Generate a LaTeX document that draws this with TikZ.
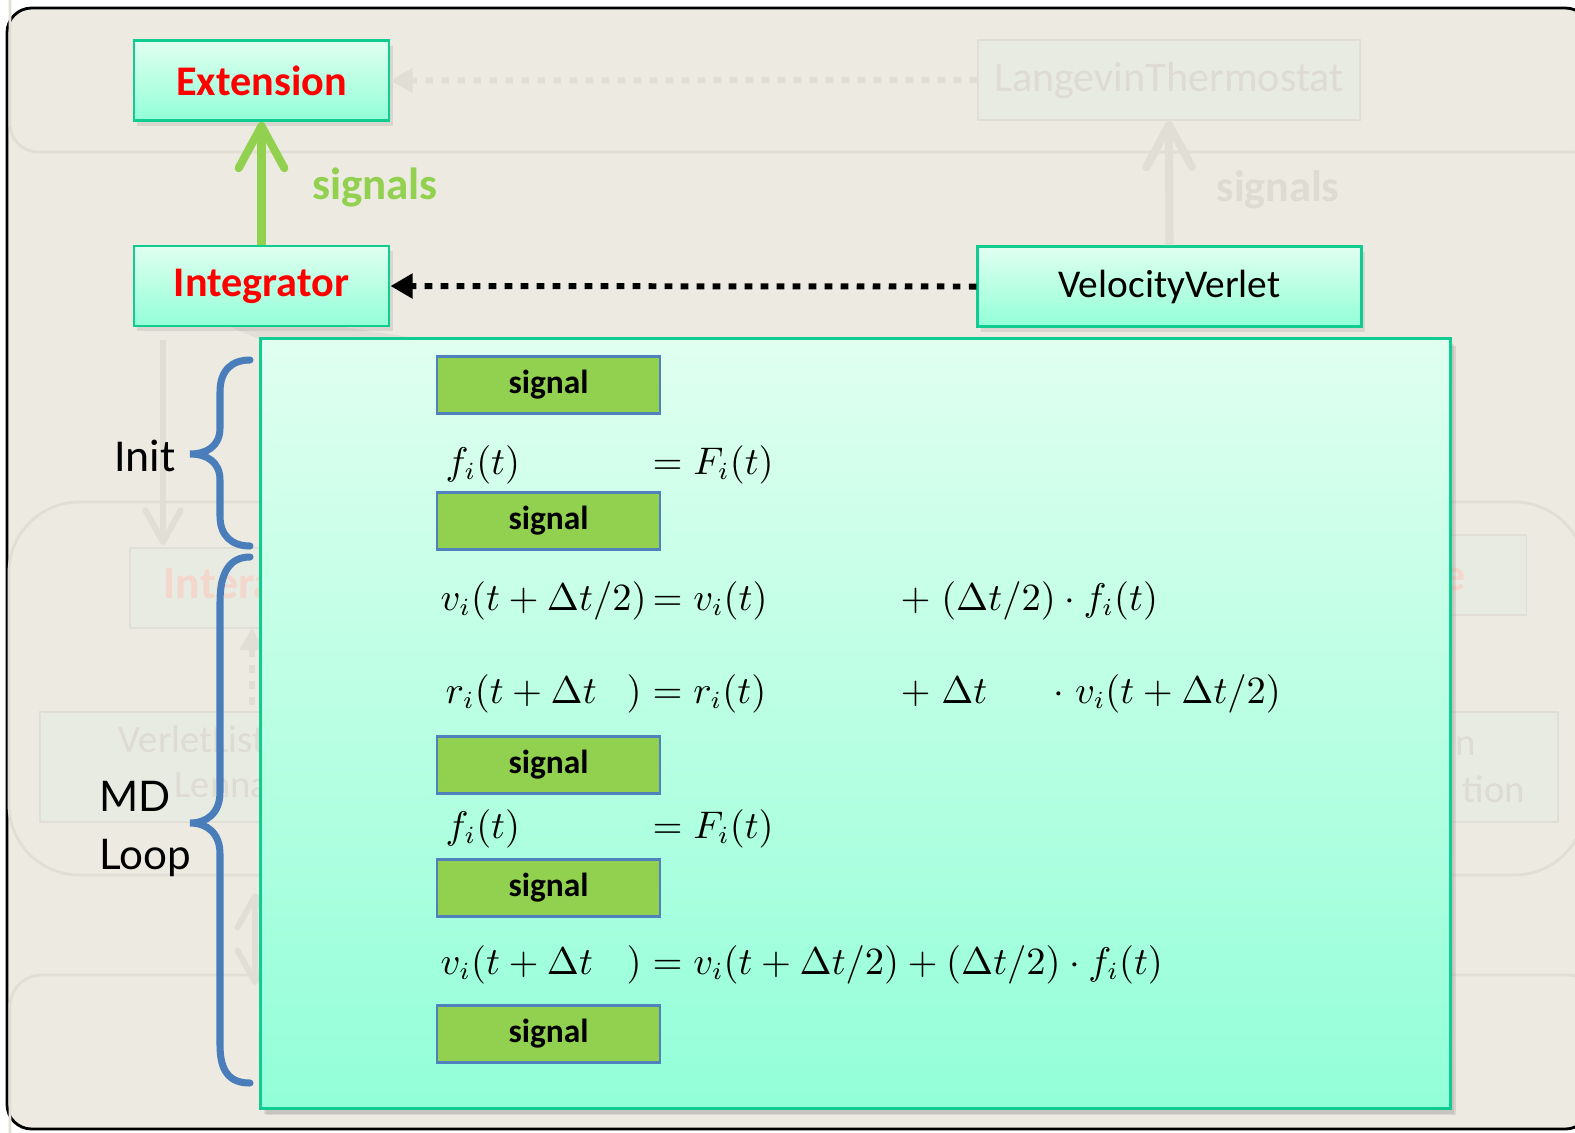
\documentclass[tikz,border=0pt]{standalone}
\usepackage{fontspec}
\setmainfont{Carlito}
\newfontfamily\loopfont{Lato}
\usetikzlibrary{arrows.meta,shadows}

\definecolor{bgbeige}{RGB}{237,234,226}
\definecolor{ghostline}{RGB}{225,222,213}
\definecolor{ghostfill}{RGB}{232,235,225}
\definecolor{ghosttext}{RGB}{222,219,211}
\definecolor{ghostred}{RGB}{243,214,204}
\definecolor{mintTop}{RGB}{224,255,240}
\definecolor{mintBot}{RGB}{146,255,216}
\definecolor{mintEdge}{RGB}{16,204,144}
\definecolor{sigGreen}{RGB}{146,208,80}
\definecolor{sigBlue}{RGB}{79,129,189}
\definecolor{braceBlue}{RGB}{74,126,187}

\tikzset{
  classbox/.style={draw=mintEdge, line width=0.8pt, top color=mintTop, bottom color=mintBot,
    minimum width=2.55cm, minimum height=0.8cm, inner sep=0pt,
    drop shadow={opacity=0.18, shadow xshift=1pt, shadow yshift=-1.5pt}},
  signalbox/.style={draw=sigBlue, line width=0.6pt, fill=sigGreen, minimum width=2.23cm,
    minimum height=0.57cm, inner sep=0pt, font=\fontsize{9.5}{11}\selectfont\bfseries},
  ghostbox/.style={draw=ghostline, fill=ghostfill, line width=0.5pt, inner sep=0pt},
  ghostarrow/.style={draw=ghostline, line width=1.7pt},
  eqn/.style={anchor=base west, inner sep=0pt, font=\fontsize{10.6}{13}\selectfont},
  curly/.style={draw=braceBlue, line width=2pt, line cap=round},
  dotted arrow/.style={line width=1.7pt, dash pattern=on 2.2pt off 2.35pt,
    -{Triangle[length=6.3pt,width=6.8pt]}},
  barb arrow/.style={line width=2.3pt, -{Straight Barb[length=12pt,width=13pt,round]}},
}

\begin{document}
\begin{tikzpicture}[x=0.01cm,y=-0.01cm]
  \useasboundingbox (0,0) rectangle (1575,1132);
  \clip (0,0) rectangle (1575,1132);
  \fill[white] (0,0) rectangle (1575,1132);
  % slide frame
  \draw[line width=0.8pt, fill=bgbeige, rounded corners=7pt] (7,8) rectangle (1590,1129);

  % faded layers of the full diagram behind
  \draw[ghostline, line width=0.8pt, rounded corners=8pt] (10,-60) rectangle (1600,152);
  \draw[ghostline, line width=0.8pt, rounded corners=20pt] (9,502) rectangle (1585,875);
  \draw[ghostline, line width=0.8pt, rounded corners=9pt] (10,975) rectangle (1600,1200);
  \node[ghostbox, minimum width=3.82cm, minimum height=0.8cm, text=ghosttext,
    font=\fontsize{12}{14}\selectfont] (thermo) at (1169,80) {LangevinThermostat};
  \node[ghostbox, minimum width=2.5cm, minimum height=0.8cm] (gforce) at (255,588) {};
  \node[anchor=base west, inner sep=0pt, text=ghostred, font=\fontsize{13}{15}\selectfont\bfseries]
    (gforcetxt) at (163,598) {Intera};
  \node[ghostbox, minimum width=0.87cm, minimum height=0.8cm] (gright) at (1483,575) {};
  \node[anchor=base east, inner sep=0pt, text=ghostred, font=\fontsize{13}{15}\selectfont\bfseries]
    (grighttxt) at (1466,590) {e};
  \node[ghostbox, minimum width=2.6cm, minimum height=1.1cm] (gverlet) at (170,767) {};
  \node[anchor=base west, inner sep=0pt, text=ghosttext, font=\fontsize{11}{13}\selectfont]
    (gverlettxt) at (118,752) {VerletList};
  \node[anchor=base west, inner sep=0pt, text=ghosttext, font=\fontsize{11}{13}\selectfont]
    (glennard) at (174,797) {Lenna};
  \node[ghostbox, minimum width=1.2cm, minimum height=1.1cm] (gfunc) at (1498,767) {};
  \node[anchor=base west, inner sep=0pt, text=ghosttext, font=\fontsize{11}{13}\selectfont]
    (gfunca) at (1455,755) {n};
  \node[anchor=base west, inner sep=0pt, text=ghosttext, font=\fontsize{11}{13}\selectfont]
    (gfuncb) at (1462,802) {tion};
  \coordinate (gdownA) at (163,340);
  \coordinate (gdownB) at (163,545);
  \coordinate (gupA) at (252,705);
  \coordinate (gupB) at (252,628);
  \coordinate (gbothA) at (255,893);
  \coordinate (gbothB) at (255,985);
  \draw[ghostarrow, -{Straight Barb[length=9pt,width=10pt,round]}] (gdownA) -- (gdownB);
  \draw[ghostarrow, dash pattern=on 2.2pt off 2.35pt, -{Triangle[length=6.3pt,width=6.8pt]}] (gupA) -- (gupB);
  \draw[ghostarrow, {Straight Barb[length=9pt,width=10pt,round]}-{Straight Barb[length=9pt,width=10pt,round]}] (gbothA) -- (gbothB);
  \fill[ghostline] (230,327) -- (343,327) -- (430,340) -- (262,340) -- cycle;

  % class boxes
  \node[classbox, font=\fontsize{12}{15}\selectfont\bfseries, text=red] (ext) at (261.5,80.5) {Extension};
  \node[classbox, font=\fontsize{12}{15}\selectfont\bfseries, text=red] (integ) at (261.5,286) {Integrator};
  \node[classbox, minimum width=3.83cm, font=\fontsize{11.2}{14}\selectfont] (vv) at (1169.5,286.5) {VelocityVerlet};

  % faded connectors of the thermostat
  \draw[ghostarrow, dotted arrow] (thermo.west) -- (ext.east);
  \draw[ghostarrow, barb arrow] (vv.north) -- (thermo.south);
  \node[text=ghosttext, font=\fontsize{12.5}{15}\selectfont\bfseries] (gsignals) at (1278,190) {signals};

  % connectors
  \draw[sigGreen, barb arrow] (integ.north) -- (ext.south);
  \node[text=sigGreen, font=\fontsize{12.8}{15}\selectfont\bfseries] (signals) at (375,188) {signals};
  \draw[black, dotted arrow] (vv.west) -- (integ.east);

  % the scheme
  \node[classbox, minimum width=11.89cm, minimum height=7.69cm,
    drop shadow={opacity=0.2, shadow xshift=1.5pt, shadow yshift=-2pt}] (mdbox) at (855.5,723.5) {};
  \foreach \y [count=\k] in {385,521,765,888,1034}
    \node[signalbox] (sig\k) at (548.5,\y) {signal};

  \node[eqn] (e1l) at (445,474) {$f_i(t)$};
  \node[eqn] (e1r) at (652,474) {$= F_i(t)$};
  \node[eqn] (e2l) at (440,610) {$v_i(t+\Delta t/2)$};
  \node[eqn] (e2m) at (652,610) {$= v_i(t)$};
  \node[eqn] (e2r) at (900,610) {$+\;(\Delta t/2)\cdot f_i(t)$};
  \node[eqn] (e3l) at (445,703) {$r_i(t+\Delta t$};
  \node[eqn] (e3p) at (626,703) {$)$};
  \node[eqn] (e3m) at (652,703) {$= r_i(t)$};
  \node[eqn] (e3r) at (900,703) {$+\;\Delta t$};
  \node[eqn] (e3s) at (1053,703) {${\cdot}\;v_i(t+\Delta t/2)$};
  \node[eqn] (e4l) at (445,838) {$f_i(t)$};
  \node[eqn] (e4r) at (652,838) {$= F_i(t)$};
  \node[eqn] (e5l) at (440,974) {$v_i(t+\Delta t$};
  \node[eqn] (e5p) at (626,974) {$)$};
  \node[eqn] (e5r) at (652,974) {$= v_i(t+\Delta t/2) + (\Delta t/2)\cdot f_i(t)$};

  % braces
  \draw[curly] (250,360) .. controls (232,360) and (220,370) .. (220,392) -- (220,428)
    .. controls (220,446) and (207,454) .. (190,454) .. controls (207,454) and (220,462) .. (220,480)
    -- (220,516) .. controls (220,536) and (232,546) .. (250,546);
  \draw[curly] (250,557) .. controls (230,557) and (220,572) .. (220,602) -- (220,792)
    .. controls (220,813) and (207,823) .. (190,823) .. controls (207,823) and (220,833) .. (220,854)
    -- (220,1045) .. controls (220,1072) and (230,1083) .. (250,1083);
  \node[font=\fontsize{13}{15}\selectfont] (init) at (145,456) {Init};
  \node[anchor=west, inner sep=0pt, align=left, font=\loopfont\fontsize{12}{16.5}\selectfont] (mdloop) at (99,829) {MD\\Loop};
\end{tikzpicture}
\end{document}
